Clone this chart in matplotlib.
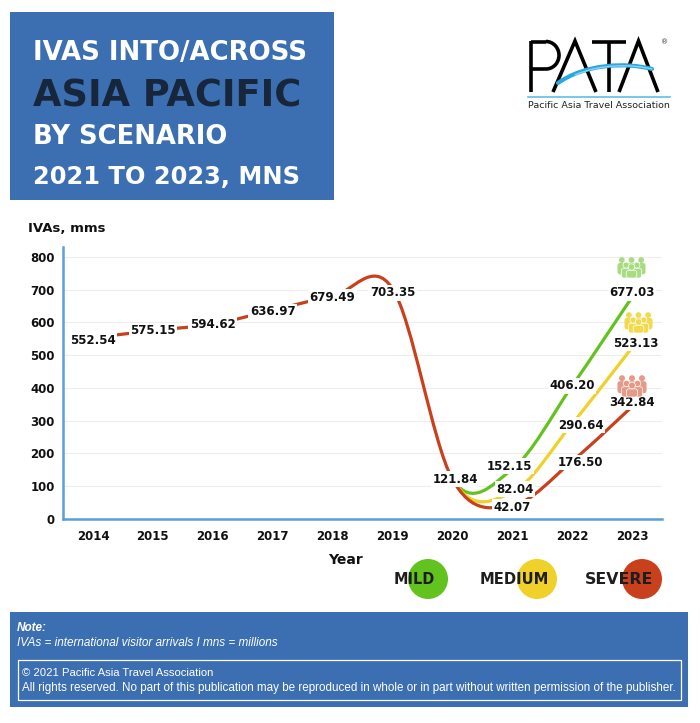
import matplotlib
matplotlib.use("Agg")
import matplotlib.pyplot as plt
import numpy as np
from matplotlib.path import Path
from matplotlib.patches import PathPatch, Rectangle, Circle, Ellipse, Arc, FancyBboxPatch
from matplotlib.font_manager import fontManager

# data
years = ["2014", "2015", "2016", "2017", "2018", "2019", "2020", "2021", "2022", "2023"]
history = [552.54, 575.15, 594.62, 636.97, 679.49, 703.35, 121.84]
severe = [42.07, 176.50, 342.84]
medium = [82.04, 290.64, 523.13]
mild = [152.15, 406.20, 677.03]
yticks = [0, 100, 200, 300, 400, 500, 600, 700, 800]

RED = "#C9401C"
GREEN = "#62C31F"
YELLOW = "#F0D02A"
BLUE = "#3B6FB1"

W, H = 700, 723
fig = plt.figure(figsize=(7, 7.23), dpi=100, facecolor="white")
renderer = fig.canvas.get_renderer()


def fit_width(t, width_px):
    bb = t.get_window_extent(renderer)
    t.set_fontsize(t.get_fontsize() * width_px / bb.width)


def smooth_path(xs, ys, start=0):
    # Excel-like smoothed line (Catmull-Rom as cubic Bezier)
    pts = np.column_stack([xs, ys]).astype(float)
    n = len(pts)
    verts = [pts[start]]
    codes = [Path.MOVETO]
    for i in range(start, n - 1):
        p_prev = pts[i - 1] if i > 0 else pts[i]
        p_next = pts[i + 2] if i + 2 < n else pts[i + 1]
        verts += [pts[i] + (pts[i + 1] - p_prev) / 6,
                  pts[i + 1] - (p_next - pts[i]) / 6,
                  pts[i + 1]]
        codes += [Path.CURVE4] * 3
    return Path(verts, codes)


# main chart
ax = fig.add_axes([63 / W, 1 - 519 / H, (662 - 63) / W, (519 - 247) / H])
ax.set_xlim(-0.5, 9.5)
ax.set_ylim(0, 830)
x = np.arange(len(years))

for vals, col in [(mild, GREEN), (medium, YELLOW), (severe, RED)]:
    full = history + vals
    start = 0 if col == RED else len(history) - 1
    ax.add_patch(PathPatch(smooth_path(x, full, start), fc="none", ec=col,
                           lw=2.3, capstyle="round", zorder=3))

label_kw = dict(textcoords="offset points", ha="center", va="center",
                fontsize=8.5, fontweight="bold", color="#111111", zorder=6,
                bbox=dict(boxstyle="square,pad=0.12", fc="white", ec="none"))

hist_off = [(0, -1.5), (0, 0), (0, 0), (0, -1), (0, -0.5), (0, -3), (2, 0)]
for i, v in enumerate(history):
    ax.annotate(f"{v:.2f}", (i, v), xytext=hist_off[i], **label_kw)

scen_off = {
    "mild": [(-2, 2), (0, 0), (0, 3)],
    "medium": [(2, 2), (6, -1), (3, 3)],
    "severe": [(0, -1.5), (6, -1), (0, 3)],
}
for name, vals in [("mild", mild), ("medium", medium), ("severe", severe)]:
    for j, v in enumerate(vals):
        ax.annotate(f"{v:.2f}", (7 + j, v), xytext=scen_off[name][j], **label_kw)

ax.set_yticks(yticks)
ax.set_xticks(x)
ax.set_xticklabels(years)
ax.grid(axis="y", color="#ededed", lw=0.8)
ax.set_axisbelow(True)
for s in ["top", "right"]:
    ax.spines[s].set_visible(False)
for s in ["left", "bottom"]:
    ax.spines[s].set_color("#5A9FD6")
    ax.spines[s].set_linewidth(1.8)
ax.tick_params(axis="both", length=0, labelsize=8.5, colors="#111111")
ax.tick_params(axis="x", pad=8)
ax.tick_params(axis="y", pad=6)
for lab in ax.get_xticklabels() + ax.get_yticklabels():
    lab.set_fontweight("bold")

# overlay in pixel coordinates for the decorations
ov = fig.add_axes([0, 0, 1, 1], facecolor="none")
ov.set_xlim(0, W)
ov.set_ylim(H, 0)
ov.axis("off")

# title box
ov.add_patch(Rectangle((10, 12), 324, 188, fc=BLUE, ec="none"))
title_lines = [("IVAS INTO/ACROSS", 53, 275, "white"),
               ("ASIA PACIFIC", 96, 268, "#17263A"),
               ("BY SCENARIO", 137, 195, "white"),
               ("2021 TO 2023, MNS", 177, 267, "white")]
for txt, yy, wd, col in title_lines:
    t = ov.text(33, yy, txt, ha="left", va="center", color=col,
                fontsize=16, fontweight="bold", family="DejaVu Sans")
    fit_width(t, wd)

# PATA logo, thin strokes
lk = dict(color="black", lw=2.6, solid_capstyle="butt", solid_joinstyle="miter")
ov.plot([531, 531], [92, 41], **lk)
ov.plot([531, 546], [41.5, 41.5], **lk)
ov.plot([531, 546], [69, 69], **lk)
ov.add_patch(Arc((546, 55.25), 26, 27.5, theta1=-90, theta2=90, color="black", lw=2.6))
ov.plot([553, 575, 596], [92, 41, 92], **lk)
ov.plot([592, 626], [41.5, 41.5], **lk)
ov.plot([609, 609], [41.5, 92], **lk)
ov.plot([619, 638.5, 658], [92, 41, 92], **lk)
ov.text(665, 42, "®", fontsize=5, ha="center", va="center", color="#333333")
sw = Path([(558, 83), (585, 64), (625, 62), (652, 69)],
          [Path.MOVETO, Path.CURVE4, Path.CURVE4, Path.CURVE4])
ov.add_patch(PathPatch(sw, fc="none", ec="#2AA7DF", lw=3.0, capstyle="round", zorder=3))
sw2 = Path([(575, 75), (600, 64), (630, 64), (652, 69)],
           [Path.MOVETO, Path.CURVE4, Path.CURVE4, Path.CURVE4])
ov.add_patch(PathPatch(sw2, fc="none", ec="#8FD3F0", lw=1.0, capstyle="round", zorder=3))
ov.plot([528, 670], [96.5, 96.5], color="#5BC0E8", lw=1.2)
t = ov.text(528, 105, "Pacific Asia Travel Association", ha="left", va="center",
            fontsize=6, color="#222222")
fit_width(t, 142)

ov.text(28, 229, "IVAs, mms", ha="left", va="center", fontsize=9.5,
        fontweight="bold", color="#111111")
ov.text(345, 560, "Year", ha="center", va="center", fontsize=10,
        fontweight="bold", color="#111111")


def draw_people(ox, oy, w, h, color):
    # small crowd pictogram: back row of three, front row of three
    s = w / 30.0
    hh = h / 22.0
    figs = [(5, 3.2, 3.0, 9, 12, "none"), (15, 3.2, 3.0, 9, 12, "none"),
            (25, 3.2, 3.0, 9, 12, "none"),
            (9.5, 8.5, 3.2, 10, 11, "white"), (20.5, 8.5, 3.2, 10, 11, "white"),
            (15, 10.5, 3.4, 11, 9, "white")]
    for cx, cy, r, bw, bh, ec in figs:
        bh = min(bh, 22 - cy - r)
        ov.add_patch(FancyBboxPatch((ox + (cx - bw / 2) * s, oy + (cy + r) * hh),
                                    bw * s, bh * hh,
                                    boxstyle="round,pad=0,rounding_size=2.5",
                                    fc=color, ec=ec, lw=0.5, zorder=5))
        ov.add_patch(Ellipse((ox + cx * s, oy + cy * hh), 2 * r * s, 2 * r * hh,
                             fc=color, ec=ec, lw=0.5, zorder=5))


draw_people(617, 257, 29, 21, "#A9DC82")
draw_people(624, 312, 29, 21, "#F2DA4C")
draw_people(617, 375, 30, 22, "#E79A88")

# legend circles
legend = [("MILD", 414, 428, GREEN, 41),
          ("MEDIUM", 514, 537, YELLOW, 69),
          ("SEVERE", 619, 642, RED, 68)]
for txt, tx, cx, col, wd in legend:
    ov.add_patch(Circle((cx, 579), 20, fc=col, ec="none", zorder=2))
    t = ov.text(tx, 580, txt, ha="center", va="center", fontsize=10,
                fontweight="bold", color="#1e1e1e", zorder=4)
    fit_width(t, wd)

# footer
names = {f.name for f in fontManager.ttflist}
narrow = "Liberation Sans Narrow" if "Liberation Sans Narrow" in names else "Liberation Sans"
ov.add_patch(Rectangle((10, 612), 678, 95, fc=BLUE, ec="none"))
ov.text(17, 628, "Note:", ha="left", va="center", fontsize=8.5, color="white",
        fontweight="bold", style="italic", family=narrow)
t = ov.text(17, 643, "IVAs = international visitor arrivals I mns = millions",
            ha="left", va="center", fontsize=8, color="white", style="italic",
            family=narrow)
fit_width(t, 265)
ov.add_patch(Rectangle((18, 660), 663, 40, fc="none", ec="white", lw=0.9))
t = ov.text(22, 673, "© 2021 Pacific Asia Travel Association", ha="left",
            va="center", fontsize=8, color="white", family=narrow)
fit_width(t, 193)
t = ov.text(22, 688, "All rights reserved. No part of this publication may be "
            "reproduced in whole or in part without written permission of the publisher.",
            ha="left", va="center", fontsize=8, color="white", family=narrow)
fit_width(t, 654)

fig.savefig("out.png", dpi=100, facecolor="white")
